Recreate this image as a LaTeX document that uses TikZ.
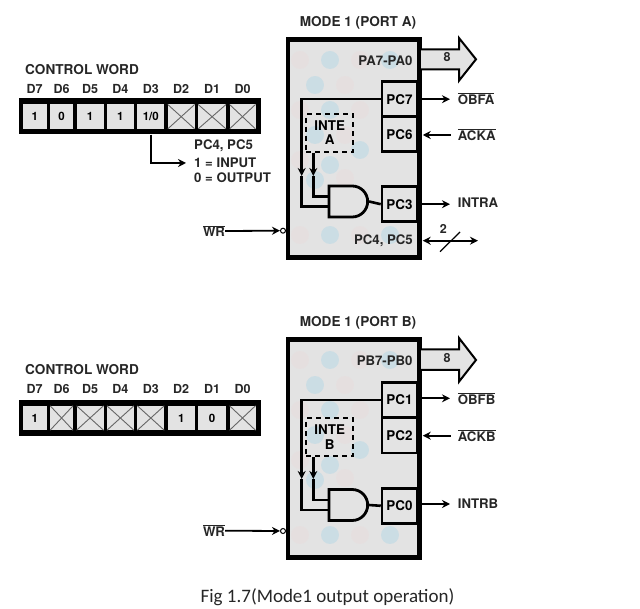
\documentclass[tikz,border=0pt]{standalone}
\usepackage{fontspec}
\setmainfont{TeX Gyre Heros}
\newfontfamily\captionfont{Carlito}
\usetikzlibrary{arrows.meta,positioning,shapes.gates.logic.US}

\begin{document}
\begin{tikzpicture}[
  x=1pt, y=-1pt,
  >={Stealth[length=8pt,width=8pt]},
  txt/.style={font=\fontsize{13.6}{15}\selectfont\bfseries, text=black!85, inner sep=0pt},
  small/.style={font=\fontsize{13.2}{15}\selectfont\bfseries, text=black!85, inner sep=0pt},
  dlabel/.style={font=\fontsize{12.5}{15}\selectfont\bfseries, text=black!85, inner sep=0pt},
  frame/.style={draw=black, line width=4.4pt, fill=black!11},
  word/.style={fill=black, minimum height=36pt, minimum width=242pt, inner sep=0pt},
  cell/.style={fill=black!11, minimum height=24.5pt, inner sep=0pt, font=\fontsize{11.5}{13}\selectfont\bfseries},
  xcell/.style={cell, path picture={
    \draw[black!60, line width=0.9pt] (path picture bounding box.north west) -- (path picture bounding box.south east);
    \draw[black!60, line width=0.9pt] (path picture bounding box.south west) -- (path picture bounding box.north east);}},
  port/.style={draw=black, line width=2.5pt, minimum width=35pt, minimum height=35pt, inner sep=0pt, font=\fontsize{13.4}{15}\selectfont\bfseries},
  inte/.style={draw=black, dash pattern=on 5pt off 4pt, line width=2pt, minimum width=47pt, minimum height=37.5pt, align=center, inner sep=0pt, font=\fontsize{13.4}{14.5}\selectfont\bfseries},
  gate/.style={and gate US, draw=black, line width=2.8pt, logic gate inputs=nn, logic gate input sep=10pt, minimum width=38pt, minimum height=31pt, inner sep=0pt, fill=black!11},
  bus/.style={draw=black, line width=2pt, fill=black!11},
  bubble/.style={draw=black, circle, line width=1pt, minimum size=5pt, inner sep=0pt, fill=white},
  arr/.style={->, line width=1.8pt},
  wire/.style={line width=2.6pt},
  node distance=3pt
]
\useasboundingbox (0,0) rectangle (640,609);

% Block backgrounds
\foreach \dy in {0,300} {
  \draw[frame] (288,39.5+\dy) rectangle (419.5,257.5+\dy);
  \foreach \px/\py/\col in {300/60/pink,330/60/cyan,360/60/pink,390/60/cyan,315/85/cyan,345/85/pink,300/110/pink,330/110/cyan,360/110/pink,315/135/cyan,345/135/pink,300/160/pink,330/165/cyan,360/150/cyan,315/180/cyan,345/178/pink,300/235/pink,330/235/cyan,360/235/pink,390/235/cyan}
    \fill[\col, opacity=.1] (\px,\py+\dy) circle (9);
}

% Port A control word
\node[txt, anchor=west] (titleWordA) at (25,69.5) {CONTROL WORD};
\node[word] (wordA) at (139.5,116.5) {};
\node[cell, minimum width=24pt] (a7) at (34.7,116.7) {1};
\node[cell, minimum width=23pt, right=of a7] (a6) {0};
\node[cell, minimum width=27pt, right=of a6] (a5) {1};
\node[cell, minimum width=27pt, right=of a5] (a4) {1};
\node[cell, minimum width=27pt, right=of a4] (a3) {1/0};
\node[xcell, minimum width=27pt, right=of a3] (a2) {};
\node[xcell, minimum width=28pt, right=of a2] (a1) {};
\node[xcell, minimum width=26pt, right=of a1] (a0) {};
\foreach \name/\txt in {a7/D7,a6/D6,a5/D5,a4/D4,a3/D3,a2/D2,a1/D1,a0/D0}
  \node[dlabel, anchor=center] (l\name) at ([yshift=27.7pt]\name.center) {\txt};
\node[small, anchor=west] (noteA1) at (194,146) {PC4, PC5};
\node[small, anchor=west] (noteA2) at (194,163) {1 = INPUT};
\node[small, anchor=west] (noteA3) at (194,178) {0 = OUTPUT};
\draw[arr, shorten >=8pt] (wordA.south -| a3.south) |- (noteA2.west);

% Port A block
\node[txt] (titleA) at (358,23.3) {MODE 1 (PORT A)};
\draw[bus] (421,49.3) -- (459,49.3) -- (459,38) -- (476,59.3) -- (459,80.7) -- (459,69.3) -- (421,69.3);
\node[dlabel] (busA) at (447,57) {8};
\node[small, anchor=east] (portA) at (412.7,60.7) {PA7-PA0};
\node[port] (pc7) at (399.5,99.2) {PC7};
\node[port] (pc6) at (399.5,134.2) {PC6};
\node[port] (pc3) at (399.5,204.2) {PC3};
\node[inte] (inteA) at (329.7,132.8) {INTE\\A};
\node[gate] (andA) at (347,201.5) {};
\node[small, anchor=west] (obfA) at (457.7,98.5) {$\overline{\mbox{OBFA}}$};
\node[small, anchor=west] (ackA) at (457.7,135) {$\overline{\mbox{ACKA}}$};
\node[small, anchor=west] (intrA) at (457.7,202.7) {INTRA};
\node[small, anchor=east] (pcsA) at (413,240.7) {PC4, PC5};
\node[dlabel] (twoA) at (443.3,229) {2};
\node[small] (wrA) at (214,231) {$\overline{\mbox{WR}}$};
\node[bubble] (bubA) at (283,230.7) {};
\coordinate (pc45A) at (422.7,240.7);
\coordinate (endA) at (478,240.7);
\coordinate (fbA) at (301.7,176);
\coordinate (enA) at (313.3,176);

\draw[arr, shorten >=7.7pt] (pc7.east) -- (pc7.east -| obfA.west);
\draw[arr, shorten <=7pt, shorten >=4.5pt] (ackA.west) -- (ackA.west -| pc6.east);
\draw[arr, shorten >=7.7pt] (pc3.east) -- (pc3.east -| intrA.west);
\draw[arr, <->] (pc45A) -- (endA);
\draw[line width=1.2pt] (440,251.7) -- (460,232);
\draw[arr] (wrA.east) -- (bubA.west);
\draw[wire, ->] (pc7.west) -| (fbA);
\draw[wire] (fbA) |- (andA.input 2);
\draw[wire, ->] (inteA.south -| enA) -- (enA);
\draw[wire] (enA) |- (andA.input 1);
\draw[wire] (andA.output) -- (pc3.west);

% Port B control word
\node[txt, anchor=west] (titleWordB) at (25,369.5) {CONTROL WORD};
\node[word] (wordB) at (139.5,418) {};
\node[cell, minimum width=24pt] (b7) at (34.7,418) {1};
\node[xcell, minimum width=23pt, right=of b7] (b6) {};
\node[xcell, minimum width=27pt, right=of b6] (b5) {};
\node[xcell, minimum width=27pt, right=of b5] (b4) {};
\node[xcell, minimum width=27pt, right=of b4] (b3) {};
\node[cell, minimum width=27pt, right=of b3] (b2) {1};
\node[cell, minimum width=28pt, right=of b2] (b1) {0};
\node[xcell, minimum width=26pt, right=of b1] (b0) {};
\foreach \name/\txt in {b7/D7,b6/D6,b5/D5,b4/D4,b3/D3,b2/D2,b1/D1,b0/D0}
  \node[dlabel, anchor=center] (l\name) at ([yshift=29pt]\name.center) {\txt};

% Port B block
\node[txt] (titleB) at (358,323.3) {MODE 1 (PORT B)};
\draw[bus] (421,349.3) -- (459,349.3) -- (459,338) -- (476,360) -- (459,381.7) -- (459,370) -- (421,370);
\node[dlabel] (busB) at (447,358) {8};
\node[small, anchor=east] (portB) at (412.7,360.7) {PB7-PB0};
\node[port] (pc1) at (399.5,400) {PC1};
\node[port] (pc2) at (399.5,435.7) {PC2};
\node[port] (pc0) at (399.5,505.8) {PC0};
\node[inte] (inteB) at (329.7,437.2) {INTE\\B};
\node[gate] (andB) at (347,505) {};
\node[small, anchor=west] (obfB) at (457.7,398.3) {$\overline{\mbox{OBFB}}$};
\node[small, anchor=west] (ackB) at (457.7,435.7) {$\overline{\mbox{ACKB}}$};
\node[small, anchor=west] (intrB) at (457.7,504) {INTRB};
\node[small] (wrB) at (214,530.7) {$\overline{\mbox{WR}}$};
\node[bubble] (bubB) at (283,531) {};
\coordinate (fbB) at (301.7,479);
\coordinate (enB) at (313.3,479);

\draw[arr, shorten >=7.7pt] (obfB.west -| pc1.east) -- (obfB.west);
\draw[arr, shorten <=7pt, shorten >=4.5pt] (ackB.west) -- (ackB.west -| pc2.east);
\draw[arr, shorten >=7.7pt] (intrB.west -| pc0.east) -- (intrB.west);
\draw[arr] (wrB.east) -- (bubB.west);
\draw[wire, ->] (pc1.west) -| (fbB);
\draw[wire] (fbB) |- (andB.input 2);
\draw[wire, ->] (inteB.south -| enB) -- (enB);
\draw[wire] (enB) |- (andB.input 1);
\draw[wire] (andB.output) -- (pc0.west);

% Caption
\node[font=\captionfont\fontsize{19}{22}\selectfont, text=black!85, inner sep=0pt] (caption) at (327.5,597) {Fig 1.7(Mode1 output operation)};
\end{tikzpicture}
\end{document}
